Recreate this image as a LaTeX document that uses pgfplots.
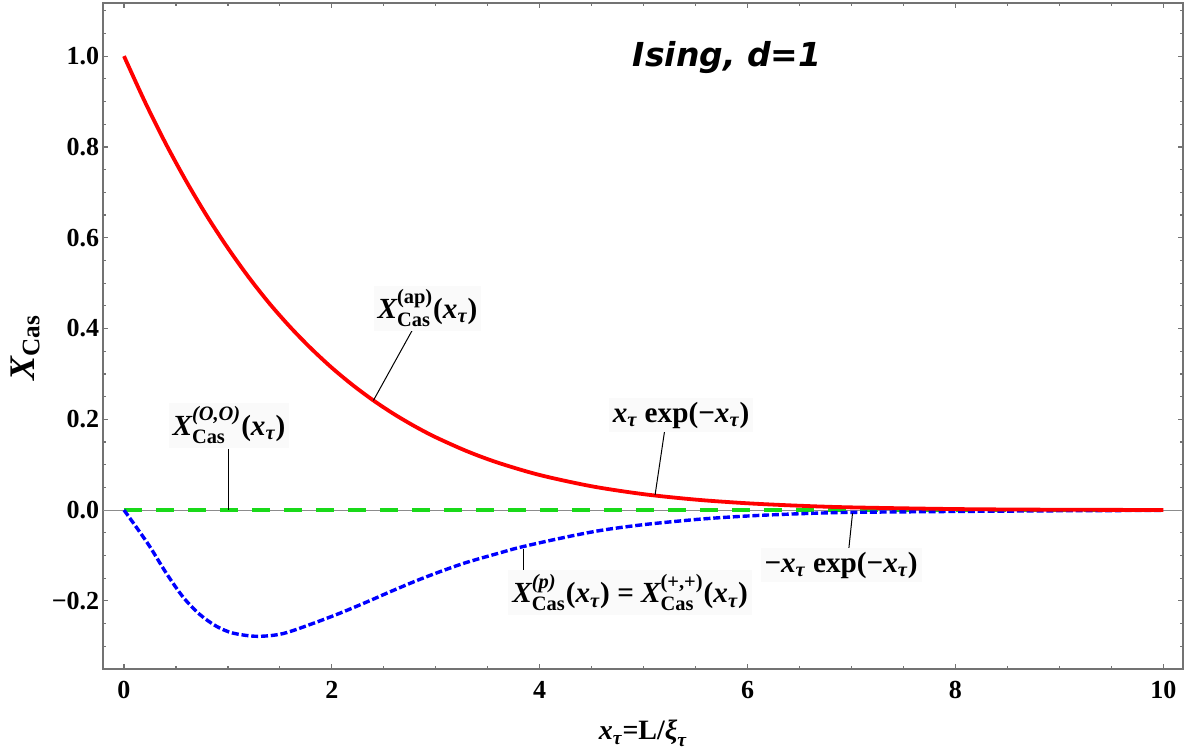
\documentclass[border=0pt]{standalone}
\usepackage{pgfplots}
\pgfplotsset{compat=1.18}
\usepackage{amsmath}
\usepackage{fontspec}
\setmainfont{Liberation Serif}
\newfontfamily\titlefont{DejaVu Sans}
\usetikzlibrary{calc}
\definecolor{mred}{rgb}{1,0,0}
\definecolor{mblue}{rgb}{0,0,1}
\definecolor{mgreen}{rgb}{0.1,0.85,0.1}
\newcommand{\B}[1]{\text{\bfseries\upshape #1}}
\newcommand{\BI}[1]{\text{\bfseries\itshape #1}}
\newcommand{\xt}{\BI{x}_{\BI{τ}}}

\pgfplotstableread{
x y
0 1.000
0.2 0.900
0.4 0.808
0.6 0.724
0.8 0.647
1.0 0.577
1.2 0.513
1.4 0.455
1.6 0.403
1.8 0.356
2.0 0.3135
2.2 0.2755
2.4 0.2415
2.6 0.2112
2.8 0.1843
3.0 0.1604
3.3 0.1297
3.6 0.1043
4.0 0.0773
4.5 0.0525
5.0 0.0351
5.5 0.0231
6.0 0.0150
6.5 0.0096
7.0 0.0060
8.0 0.0023
9.0 0.0008
10.0 0.0003
}\redtab

\pgfplotstableread{
x y
0 0
0.12 -0.038
0.25 -0.081
0.41 -0.140
0.57 -0.192
0.73 -0.230
0.89 -0.256
1.05 -0.271
1.28 -0.278
1.53 -0.272
1.85 -0.247
2.1 -0.225
2.34 -0.202
2.58 -0.178
2.82 -0.155
3.06 -0.134
3.30 -0.115
3.62 -0.094
3.81 -0.082
4.2 -0.062
4.58 -0.045
5.0 -0.032
5.54 -0.020
6.0 -0.013
6.5 -0.008
7.0 -0.005
8.0 -0.003
9.0 -0.0015
10.0 -0.0007
}\bluetab

\begin{document}
\begin{tikzpicture}
\begin{axis}[
  scale only axis, width=540pt, height=333pt,
  xmin=-0.202, xmax=10.19, ymin=-0.350, ymax=1.117,
  axis line style={black!55, line width=0.6pt},
  tick style={black!55, line width=0.6pt},
  tick align=inside,
  major tick length=2.6pt, minor tick length=1.6pt,
  xtick={0,2,4,6,8,10}, xticklabels={0,2,4,6,8,10},
  minor xtick={0.5,1,1.5,2.5,3,3.5,4.5,5,5.5,6.5,7,7.5,8.5,9,9.5},
  ytick={-0.2,0,0.2,0.4,0.6,0.8,1.0},
  yticklabels={−0.2,0.0,0.2,0.4,0.6,0.8,1.0},
  minor ytick={-0.3,-0.25,-0.15,-0.1,-0.05,0.05,0.1,0.15,0.25,0.3,0.35,0.45,0.5,0.55,0.65,0.7,0.75,0.85,0.9,0.95,1.05,1.1},
  xticklabel style={font=\bfseries\fontsize{13}{14}\selectfont, yshift=-2.7pt},
  yticklabel style={font=\bfseries\fontsize{13}{14}\selectfont, xshift=1.6pt},
  xlabel={$\xt\B{=L/}\BI{ξ}_{\BI{τ}}$},
  xlabel style={font=\fontsize{14}{16}\selectfont, at={(axis description cs:0.5,-0.1066)}, anchor=base},
  ylabel={$\BI{X}_{\B{Cas}}$},
  ylabel style={font=\fontsize{18}{20}\selectfont, at={(axis description cs:-0.072,0.482)}, anchor=center, rotate=0},
  clip=false,
]
\addplot[black!45, line width=0.6pt] coordinates {(-0.202,0) (10.19,0)};
\addplot[mgreen, line width=1.7pt, dash pattern=on 9pt off 7pt] coordinates {(0,0) (10,0)};
\addplot[mblue, line width=1.7pt, dash pattern=on 3.5pt off 1.4pt, smooth, tension=0.5] table[x=x,y=y] {\bluetab};
\addplot[mred, line width=1.9pt, smooth, tension=0.5] table[x=x,y=y] {\redtab};

\node[font=\titlefont\bfseries\itshape\fontsize{16.5}{18}\selectfont, anchor=base] at (axis description cs:0.578,0.905) {Ising, d=1};

\begin{scope}[every node/.style={fill=black!2, inner sep=2pt, font=\fontsize{14.6}{16}\selectfont}]
\draw[black, line width=0.5pt] (axis cs:2.80,0.407) -- (axis cs:2.40,0.2415);
\node at (axis cs:2.92,0.445) {$\BI{X}^{\B{(ap)}}_{\B{Cas}}\B{(}\xt\B{)}$};
\draw[black, line width=0.5pt] (axis cs:1.01,0.135) -- (axis cs:1.01,0);
\node at (axis cs:1.01,0.187) {$\BI{X}^{\BI{(O,O)}}_{\B{Cas}}\B{(}\xt\B{)}$};
\draw[black, line width=0.5pt] (axis cs:5.21,0.187) -- (axis cs:5.11,0.033);
\node at (axis cs:5.36,0.209) {$\xt\ \B{exp(−}\xt\B{)}$};
\draw[black, line width=0.5pt] (axis cs:7.01,-0.007) -- (axis cs:6.97,-0.095);
\node at (axis cs:6.90,-0.121) {$\B{−}\xt\ \B{exp(−}\xt\B{)}$};
\draw[black, line width=0.5pt] (axis cs:3.84,-0.085) -- (axis cs:3.84,-0.158);
\node at (axis cs:4.87,-0.182) {$\BI{X}^{\BI{(p)}}_{\B{Cas}}\B{(}\xt\B{)}\B{ = }\BI{X}^{\B{(+,+)}}_{\B{Cas}}\B{(}\xt\B{)}$};
\end{scope}
\end{axis}
\pgfresetboundingbox
\path ($(current axis.south west)+(-51.5pt,-42.5pt)$) rectangle ($(current axis.north east)+(5.5pt,1.5pt)$);
\end{tikzpicture}
\end{document}
